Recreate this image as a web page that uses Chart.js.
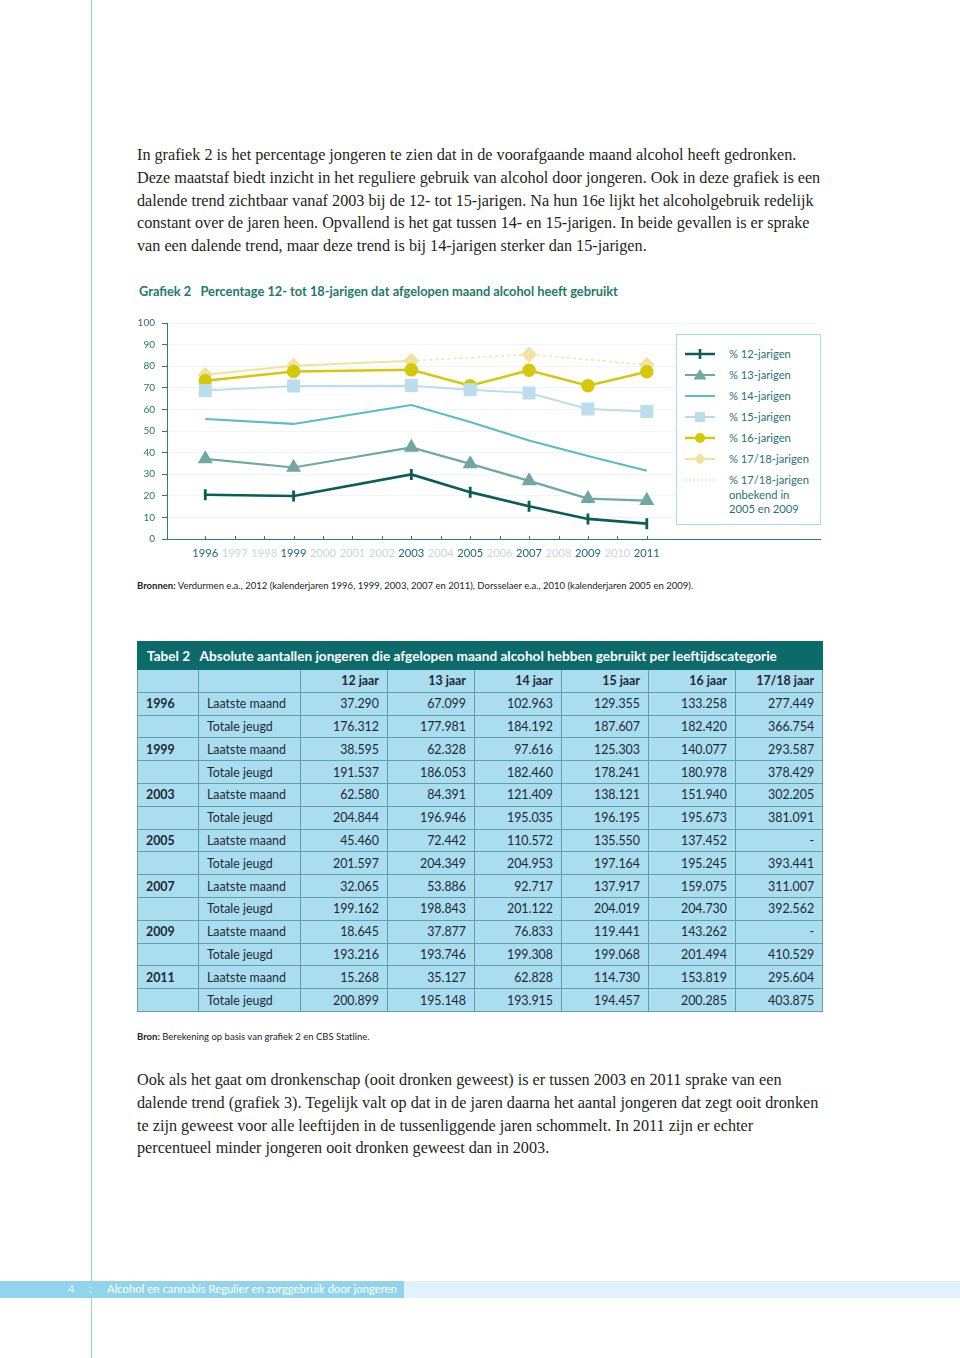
<!DOCTYPE html>
<html><head><meta charset="utf-8">
<script src="https://cdn.jsdelivr.net/npm/chart.js@4"></script>
<style>
html,body{margin:0;padding:0;background:#fff;}
body{width:960px;height:1358px;position:relative;overflow:hidden;font-family:Lato,"Open Sans",sans-serif;}
.vline{position:absolute;left:91px;top:0;width:1px;height:1358px;background:#8fd2ea;}
.para{position:absolute;left:137px;font-family:"Liberation Serif",serif;font-size:16.2px;color:#231f20;line-height:22.7px;white-space:nowrap;}
.ctitle{position:absolute;left:139px;top:283px;font-size:12.8px;color:#1d7a68;font-weight:bold;white-space:nowrap;}
#chartwrap{position:absolute;left:120px;top:310px;width:710px;height:260px;}
.legend{position:absolute;left:676px;top:334px;width:143px;height:189px;border:1.5px solid #a9dbed;background:#fff;}
.li{position:absolute;left:0;font-size:11.2px;color:#1f7370;white-space:nowrap;line-height:14.5px;}
.li svg{position:absolute;left:8px;top:0;}
.li span{position:absolute;left:52px;top:0;}
.src{position:absolute;left:137px;font-size:9.5px;color:#222;white-space:nowrap;}
table{position:absolute;left:137px;top:641px;border-collapse:collapse;table-layout:fixed;width:685px;font-size:12.4px;color:#1b2a33;}
td,th{border:1px solid #5f9fa8;background:#abddf1;height:21.8px;padding:0 8px 0 8px;white-space:nowrap;}
th{font-weight:bold;text-align:right;}
td.n{text-align:right;}
td.y{font-weight:bold;}
tr.t td{background:#0d6a6b;color:#fff;font-weight:bold;font-size:13.6px;height:27px;border-color:#0d6a6b;}
.foot1{position:absolute;left:0;top:1281px;width:404px;height:17px;background:#92d4ec;}
.foot2{position:absolute;left:404px;top:1281px;width:556px;height:17px;background:#e1f2fa;}
.ft{position:absolute;top:1282px;font-size:11.3px;color:#fff;white-space:nowrap;}
</style></head>
<body>
<div class="vline"></div>

<div class="para" style="top:144px">In grafiek 2 is het percentage jongeren te zien dat in de voorafgaande maand alcohol heeft gedronken.</div>
<div class="para" style="top:167px">Deze maatstaf biedt inzicht in het reguliere gebruik van alcohol door jongeren. Ook in deze grafiek is een</div>
<div class="para" style="top:190px">dalende trend zichtbaar vanaf 2003 bij de 12- tot 15-jarigen. Na hun 16e lijkt het alcoholgebruik redelijk</div>
<div class="para" style="top:212px">constant over de jaren heen. Opvallend is het gat tussen 14- en 15-jarigen. In beide gevallen is er sprake</div>
<div class="para" style="top:235px">van een dalende trend, maar deze trend is bij 14-jarigen sterker dan 15-jarigen.</div>

<div class="ctitle">Grafiek 2&nbsp;&nbsp;&nbsp;Percentage 12- tot 18-jarigen dat afgelopen maand alcohol heeft gebruikt</div>

<div id="chartwrap"><canvas id="c" width="710" height="260"></canvas></div>

<div class="legend">
 <div class="li" style="top:12px"><svg width="34" height="14"><line x1="0" y1="7" x2="30" y2="7" stroke="#0b5d56" stroke-width="2.5"/><line x1="15" y1="2" x2="15" y2="12" stroke="#0b5d56" stroke-width="2.6"/></svg><span>% 12-jarigen</span></div>
 <div class="li" style="top:33px"><svg width="34" height="14"><line x1="0" y1="7" x2="30" y2="7" stroke="#70a7a2" stroke-width="2"/><polygon points="15,1 21.5,11.5 8.5,11.5" fill="#70a7a2"/></svg><span>% 13-jarigen</span></div>
 <div class="li" style="top:54px"><svg width="34" height="14"><line x1="0" y1="7" x2="30" y2="7" stroke="#58bcc9" stroke-width="2"/></svg><span>% 14-jarigen</span></div>
 <div class="li" style="top:75px"><svg width="34" height="14"><line x1="0" y1="7" x2="30" y2="7" stroke="#b9dded" stroke-width="2"/><rect x="10" y="2" width="10" height="10" fill="#b9dded"/></svg><span>% 15-jarigen</span></div>
 <div class="li" style="top:96px"><svg width="34" height="14"><line x1="0" y1="7" x2="30" y2="7" stroke="#d5c80a" stroke-width="2.5"/><circle cx="15" cy="7" r="5" fill="#d5c80a"/></svg><span>% 16-jarigen</span></div>
 <div class="li" style="top:117px"><svg width="34" height="14"><line x1="0" y1="7" x2="30" y2="7" stroke="#efe3a2" stroke-width="2"/><polygon points="15,1 21,7 15,13 9,7" fill="#efe3a2"/></svg><span>% 17/18-jarigen</span></div>
 <div class="li" style="top:138px"><svg width="34" height="14"><line x1="0" y1="7" x2="30" y2="7" stroke="#efe7ad" stroke-width="1.5" stroke-dasharray="2,2"/></svg><span>% 17/18-jarigen<br>onbekend in<br>2005 en 2009</span></div>
</div>

<div class="src" style="top:580px"><b>Bronnen:</b> Verdurmen e.a., 2012 (kalenderjaren 1996, 1999, 2003, 2007 en 2011), Dorsselaer e.a., 2010 (kalenderjaren 2005 en 2009).</div>

<table id="tbl"></table>

<div class="src" style="top:1031px"><b>Bron:</b> Berekening op basis van grafiek 2 en CBS Statline.</div>

<div class="para" style="top:1069px">Ook als het gaat om dronkenschap (ooit dronken geweest) is er tussen 2003 en 2011 sprake van een</div>
<div class="para" style="top:1092px">dalende trend (grafiek 3). Tegelijk valt op dat in de jaren daarna het aantal jongeren dat zegt ooit dronken</div>
<div class="para" style="top:1115px">te zijn geweest voor alle leeftijden in de tussenliggende jaren schommelt. In 2011 zijn er echter</div>
<div class="para" style="top:1137px">percentueel minder jongeren ooit dronken geweest dan in 2003.</div>

<div class="foot1"></div><div class="foot2"></div>
<div class="ft" style="left:68px;color:#e8f6fc">4</div>
<div class="ft" style="left:89px;color:#e8f6fc">:</div>
<div class="ft" style="left:107px">Alcohol en cannabis Regulier en zorggebruik door jongeren</div>

<script>
// ---- chart data ----
const dataYears = [1996, 1999, 2003, 2005, 2007, 2009, 2011];
const tickYears = [1996,1997,1998,1999,2000,2001,2002,2003,2004,2005,2006,2007,2008,2009,2010,2011];
const yTicks = [0,10,20,30,40,50,60,70,80,90,100];
const pct12 = [20.5, 19.9, 29.9, 21.7, 15.2, 9.3, 7.1];
const pct13 = [37.1, 33.1, 42.4, 34.8, 26.9, 18.7, 17.8];
const pct14 = [55.6, 53.3, 62.0, 54.2, 45.6, 38.4, 31.6];
const pct15 = [68.7, 70.8, 71.0, 69.1, 67.6, 60.2, 59.0];
const pct16 = [73.3, 77.5, 78.3, 71.0, 78.1, 71.0, 77.4];
const pct1718 = [76.0, 80.2, 82.5, null, 85.4, null, 80.7];
const pct1718unknownYears = [2003, 2007, 2011];

// ---- table data ----
const tableTitle = 'Tabel 2\u00a0\u00a0\u00a0Absolute aantallen jongeren die afgelopen maand alcohol hebben gebruikt per leeftijdscategorie';
const tableCols = ['12 jaar','13 jaar','14 jaar','15 jaar','16 jaar','17/18 jaar'];
const tableYears = ['1996','1999','2003','2005','2007','2009','2011'];
const rowLabels = ['Laatste maand','Totale jeugd'];
const laatsteMaand = [
 ['37.290','67.099','102.963','129.355','133.258','277.449'],
 ['38.595','62.328','97.616','125.303','140.077','293.587'],
 ['62.580','84.391','121.409','138.121','151.940','302.205'],
 ['45.460','72.442','110.572','135.550','137.452','-'],
 ['32.065','53.886','92.717','137.917','159.075','311.007'],
 ['18.645','37.877','76.833','119.441','143.262','-'],
 ['15.268','35.127','62.828','114.730','153.819','295.604']
];
const totaleJeugd = [
 ['176.312','177.981','184.192','187.607','182.420','366.754'],
 ['191.537','186.053','182.460','178.241','180.978','378.429'],
 ['204.844','196.946','195.035','196.195','195.673','381.091'],
 ['201.597','204.349','204.953','197.164','195.245','393.441'],
 ['199.162','198.843','201.122','204.019','204.730','392.562'],
 ['193.216','193.746','199.308','199.068','201.494','410.529'],
 ['200.899','195.148','193.915','194.457','200.285','403.875']
];

// build table
(function(){
  const t = document.getElementById('tbl');
  let h = '<colgroup><col style="width:61px"><col style="width:102px">' + tableCols.map(()=>'<col style="width:87px">').join('') + '</colgroup>';
  h += '<tr class="t"><td colspan="8" style="padding-left:9px">' + tableTitle + '</td></tr>';
  h += '<tr><th></th><th></th>' + tableCols.map(c=>'<th>'+c+'</th>').join('') + '</tr>';
  tableYears.forEach((y,i)=>{
    h += '<tr><td class="y">'+y+'</td><td>'+rowLabels[0]+'</td>' + laatsteMaand[i].map(v=>'<td class="n">'+v+'</td>').join('') + '</tr>';
    h += '<tr><td></td><td>'+rowLabels[1]+'</td>' + totaleJeugd[i].map(v=>'<td class="n">'+v+'</td>').join('') + '</tr>';
  });
  t.innerHTML = h;
})();

const pts = arr => dataYears.map((x,i)=>({x:x, y:arr[i]}));
const innerTicks = {
  id:'innerTicks',
  beforeDatasetsDraw(chart){
    const xs = chart.scales.x, ys = chart.scales.y, ctx = chart.ctx;
    const y0 = ys.getPixelForValue(0);
    ctx.save(); ctx.strokeStyle='#2f7d7a'; ctx.lineWidth=1;
    tickYears.forEach(v=>{ const px = Math.round(xs.getPixelForValue(v))+0.5; ctx.beginPath(); ctx.moveTo(px,y0); ctx.lineTo(px,y0-3); ctx.stroke(); });
    ctx.restore();
  }
};

new Chart(document.getElementById('c'), {
  type:'line',
  data:{datasets:[
    {label:'% 17/18-jarigen onbekend in 2005 en 2009', data: pct1718unknownYears.map(x=>({x:x, y:pct1718[dataYears.indexOf(x)]})), borderColor:'#efe7ad', borderWidth:1.6, borderDash:[3,3], pointRadius:0, spanGaps:true, tension:0, order:7},
    {label:'% 17/18-jarigen', data: pts(pct1718), borderColor:'#efe3a2', backgroundColor:'#efe3a2', borderWidth:2, pointStyle:'rectRot', pointRadius:6.5, spanGaps:false, order:6},
    {label:'% 16-jarigen', data: pts(pct16), borderColor:'#d5c80a', backgroundColor:'#d5c80a', borderWidth:2.5, pointStyle:'circle', pointRadius:5.5, order:5},
    {label:'% 15-jarigen', data: pts(pct15), borderColor:'#bcdeec', backgroundColor:'#bcdeec', borderWidth:2, pointStyle:'rect', pointRadius:7.8, order:4},
    {label:'% 14-jarigen', data: pts(pct14), borderColor:'#58bcc9', borderWidth:2, pointRadius:0, order:3},
    {label:'% 13-jarigen', data: pts(pct13), borderColor:'#70a7a2', backgroundColor:'#70a7a2', borderWidth:2.2, pointStyle:'triangle', pointRadius:6.5, order:2},
    {label:'% 12-jarigen', data: pts(pct12), borderColor:'#0b5d56', backgroundColor:'#0b5d56', borderWidth:2.6, pointStyle:'line', pointRotation:90, pointRadius:5.5, pointBorderWidth:2.8, order:1}
  ]},
  options:{
    responsive:false, animation:false, events:[],
    layout:{padding:{top:11,right:8,left:0,bottom:0}},
    plugins:{legend:{display:false}, tooltip:{enabled:false}},
    elements:{line:{tension:0}, point:{borderWidth:0}},
    scales:{
      x:{type:'linear', min:1994.70, max:2016.89,
         afterBuildTicks:(s)=>{ s.ticks = tickYears.map(v=>({value:v})); },
         afterFit:(s)=>{ s.height = 31; },
         ticks:{autoSkip:false, maxRotation:0, padding:8, font:{family:'Lato', size:11.2},
                color:(c)=> dataYears.includes(c.tick && c.tick.value) ? '#1b6b69' : '#c6d8dc',
                callback:(v)=>String(v)},
         grid:{display:true, drawOnChartArea:false, drawTicks:false},
         border:{display:true, color:'#2f7d7a', width:1}},
      y:{min:0, max:100,
         afterBuildTicks:(s)=>{ s.ticks = yTicks.map(v=>({value:v})); },
         afterFit:(s)=>{ s.width = 47; },
         ticks:{padding:7, font:{family:'Lato', size:10}, color:'#2a7372'},
         grid:{color:'#eef5f7', tickLength:5, tickColor:'#2f7d7a', lineWidth:1},
         border:{display:true, color:'#2f7d7a', width:1}}
    }
  },
  plugins:[innerTicks]
});
</script>
</body></html>
